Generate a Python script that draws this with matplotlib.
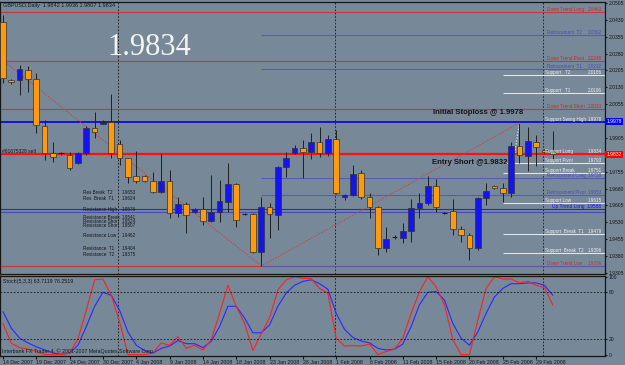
import matplotlib
matplotlib.use('Agg')
import matplotlib.pyplot as plt
import numpy as np
from matplotlib.transforms import blended_transform_factory

plt.rcParams['font.family'] = ['Liberation Sans', 'DejaVu Sans']

# GBPUSD daily bars, 14 Dec 2007 .. 3 Mar 2008
opens = [2.0421, 2.0163, 2.0163, 2.0207, 2.0167, 1.9958, 1.9838, 1.9838, 1.9829, 1.9794,
         1.9838, 1.9949, 1.9967, 1.9976, 1.9878, 1.9816, 1.9736, 1.9736, 1.9714, 1.9665,
         1.9714, 1.9572, 1.9612, 1.9576, 1.9589, 1.9536, 1.9576, 1.9621, 1.9701, 1.9567,
         1.9567, 1.9398, 1.9598, 1.9563, 1.9776, 1.9838, 1.9861, 1.9843, 1.9887, 1.9838,
         1.9901, 1.9643, 1.9652, 1.9749, 1.9643, 1.9598, 1.9416, 1.9465, 1.9461, 1.9492,
         1.9594, 1.9616, 1.9692, 1.9572, 1.9581, 1.9501, 1.9474, 1.9416, 1.9638, 1.9692,
         1.9683, 1.9661, 1.9869, 1.9825, 1.9887, 1.9852, 1.9842]
highs = [2.0452, 2.0167, 2.0229, 2.0225, 2.0194, 1.9985, 1.9887, 1.9843, 1.9843, 1.9843,
         1.9958, 2.0021, 1.9985, 2.0101, 1.9896, 1.9816, 1.9847, 1.9741, 1.9754, 1.9838,
         1.9763, 1.9643, 1.9621, 1.9594, 1.9643, 1.9741, 1.9718, 1.9794, 1.9705, 1.9572,
         1.9572, 1.9643, 1.9616, 1.9781, 1.9843, 1.9874, 1.9896, 1.9927, 1.9954, 1.9918,
         1.9941, 1.9656, 1.9785, 1.9763, 1.9661, 1.9603, 1.9509, 1.9474, 1.9527, 1.9634,
         1.9661, 1.9736, 1.9723, 1.9576, 1.9634, 1.9514, 1.9483, 1.9643, 1.9705, 1.9696,
         1.9705, 1.9887, 1.9972, 1.9954, 1.9918, 1.9856, 1.9936]
lows = [2.0149, 2.0145, 2.0096, 2.0109, 1.9927, 1.9807, 1.9798, 1.9829, 1.9763, 1.9789,
        1.9829, 1.9905, 1.9967, 1.9816, 1.9785, 1.9705, 1.9705, 1.9709, 1.9661, 1.9661,
        1.9549, 1.9554, 1.9483, 1.9572, 1.9518, 1.9532, 1.9532, 1.9576, 1.9509, 1.9563,
        1.9394, 1.9336, 1.9461, 1.9496, 1.9732, 1.9834, 1.9727, 1.9812, 1.9821, 1.9825,
        1.9656, 1.9629, 1.9647, 1.9634, 1.9549, 1.9385, 1.9398, 1.9456, 1.9438, 1.9443,
        1.9549, 1.9607, 1.9576, 1.9567, 1.9474, 1.9443, 1.9363, 1.9407, 1.9607, 1.9678,
        1.9621, 1.9643, 1.9794, 1.9758, 1.9781, 1.9838, 1.9807]
closes = [2.0172, 2.0154, 2.0212, 2.0167, 1.9963, 1.9838, 1.9821, 1.9838, 1.9772, 1.9838,
          1.9949, 1.9932, 1.9976, 1.9838, 1.9816, 1.9732, 1.9714, 1.9714, 1.9665, 1.9714,
          1.9572, 1.9612, 1.9563, 1.9589, 1.9536, 1.9576, 1.9625, 1.9701, 1.9541, 1.9567,
          1.9398, 1.9598, 1.9567, 1.9776, 1.9816, 1.9861, 1.9843, 1.9887, 1.9838, 1.9901,
          1.9661, 1.9652, 1.9745, 1.9643, 1.9598, 1.9416, 1.9456, 1.9465, 1.9492, 1.9594,
          1.9616, 1.9692, 1.9598, 1.9572, 1.9501, 1.9474, 1.9416, 1.9638, 1.9670, 1.9683,
          1.9661, 1.9869, 1.9829, 1.9892, 1.9865, 1.9843, 1.9834]

# Stochastic(5,3,3)
stoch_k = [40, 14.5, 9, 7, 4, 0, 0, 0, 2, 20, 57, 96, 97, 76, 42, 0, 0, 0, 2, 15,
           12, 23, 8, 12, 6, 19, 53, 89, 62, 40, 5, 27, 47, 83, 96, 100, 98, 97.5, 85, 79,
           21, 11, 11.5, 11, 13.6, 0, 4, 7, 21, 53, 81, 100, 87, 64, 19, 0, 0, 44, 85, 100,
           97, 97, 92, 94, 89, 86, 63.7]
stoch_d = [55, 34, 21, 15, 10, 6, 2, 0.5, 2, 12, 36, 62, 80, 76, 57, 29, 12, 5, 2, 8,
           11, 18, 14, 14, 9, 17, 36, 62, 62, 47, 28, 28, 38, 62, 79, 89, 94, 96, 91, 84,
           53, 32.5, 22, 17.5, 15, 8, 6, 7, 13.6, 36, 64, 80, 81, 70, 40, 21, 12, 29, 53, 74,
           85, 91, 91, 92, 92, 89, 76.25]

date_labels = ['14 Dec 2007', '19 Dec 2007', '24 Dec 2007', '30 Dec 2007', '4 Jan 2008',
               '9 Jan 2008', '14 Jan 2008', '18 Jan 2008', '23 Jan 2008', '28 Jan 2008',
               '1 Feb 2008', '6 Feb 2008', '11 Feb 2008', '15 Feb 2008', '20 Feb 2008',
               '25 Feb 2008', '29 Feb 2008']
month_starts = [14, 40, 65]
price_ticks = [2.0505, 2.0430, 2.0355, 2.0280, 2.0205, 2.0130, 2.0055, 1.9905,
               1.9755, 1.9680, 1.9605, 1.9530, 1.9455, 1.9380, 1.9305]

# levels drawn by the indicators
down_names = ['Down Trend Long', 'Down Trend Pivot', 'Down Trend Short', 'Down Trend Low']
down_levels = [2.0463, 2.0248, 2.0033, 1.9336]
retr_names = ['Retracement  T2', 'Retracement  T1', 'Retracement Long', 'Retracement Pivot']
retr_levels = [2.0362, 2.0212, 1.9728, 1.9653]
supp_names = ['Support   T2', 'Support   T1', 'Support Pivot', 'Support Break', 'Support Low',
              'Support  Break  T1', 'Support  Break  T2']
supp_levels = [2.0186, 2.0106, 1.9793, 1.9751, 1.9615, 1.9479, 1.9396]
extra_names = ['Support Swing High', 'Support Long']
extra_levels = [1.9978, 1.9834]
uptrend_level = 1.9588
res_names = ['Res Break  T2', 'Res  Break  T1', 'Resistance High', 'Resistance Break',
             'Resistance Short', 'Resistance Short', 'Resistance Low', 'Resistance  T1',
             'Resistance  T2']
res_levels = [1.9653, 1.9624, 1.9576, 1.9541, 1.9524, 1.9507, 1.9462, 1.9404, 1.9375]
stoploss = 1.9978
entry = 1.9832
last_price = 1.9834
zz_bars = [-0.36, 31, 62]
zz_prices = [2.0260, 1.9336, 1.9972]

bg = '#778899'
dark = '#161616'
W, H = 625, 365
narrow = ['Liberation Sans Narrow', 'Liberation Sans', 'DejaVu Sans']


def px_box(x0, y0, x1, y1):
    return [x0 / W, 1 - y1 / H, (x1 - x0) / W, (y1 - y0) / H]


fig = plt.figure(figsize=(6.25, 3.65), dpi=100, facecolor=bg)
ax = fig.add_axes(px_box(0, 2, 605, 274), facecolor=bg)
ax2 = fig.add_axes(px_box(0, 276, 605, 356), facecolor=bg)
x0, x1 = -0.36, 72.27
ax.set_xlim(x0, x1)
ax.set_ylim(1.93005, 2.05094)
ax2.set_xlim(x0, x1)
ax2.set_ylim(-1.8, 100.9)

# horizontal levels
for p in down_levels:
    ax.hlines(p, x0, x1, color='#c83a3a', lw=0.8, zorder=2)
for p in retr_levels + [down_levels[-1]]:
    ax.hlines(p, 31, x1, color='#5a5ab4', lw=0.8, zorder=2)
for p in supp_levels:
    ax.hlines(p, 60, x1, color='#e4e4e4', lw=0.8, zorder=2)
ax.hlines(uptrend_level, x0, x1, color='#2a2ad0', lw=0.8, zorder=2)
ax.hlines(res_levels[2], x0, x1, color='#4848c0', lw=0.8, zorder=2)
ax.hlines(stoploss, x0, x1, color='#0a0ad8', lw=1.3, zorder=2)
ax.hlines(entry, x0, x1, color='#ff1010', lw=1.6, zorder=2)

# zigzag
ax.plot(zz_bars, zz_prices, color='#d04040', lw=0.7, ls=(0, (1.5, 1.5)), zorder=2)
ax.plot([62, 60.7], [1.9972, 1.9661], color='#eeeeee', lw=0.7, ls=(0, (1.5, 1.5)), zorder=2)

# candles
for i in range(len(opens)):
    o, h, l, c = opens[i], highs[i], lows[i], closes[i]
    ax.vlines(i, l, h, color='#202020', lw=0.7, zorder=3)
    if abs(c - o) < 0.0001:
        ax.hlines(o, i - 0.34, i + 0.34, color='#202020', lw=0.8, zorder=4)
    else:
        col = '#1414f0' if c > o else '#ff9a0a'
        ax.bar(i, abs(c - o), bottom=min(o, c), width=0.68, color=col,
               edgecolor='#303030', lw=0.5, zorder=4)

for b in month_starts:
    ax.axvline(b - 0.2, color=dark, lw=0.6, ls=(0, (2, 2)), zorder=1)
    ax2.axvline(b - 0.2, color=dark, lw=0.6, ls=(0, (2, 2)), zorder=1)

# right-side labels
fs = 3.3
for n, p in zip(down_names, down_levels):
    ax.text(65.3, p, n, fontsize=fs, family=narrow, color='#d02828', ha='left', va='bottom', zorder=5)
    ax.text(71.9, p, '%.4f' % p, fontsize=fs, family=narrow, color='#d02828', ha='right', va='bottom', zorder=5)
for n, p in zip(retr_names, retr_levels):
    ax.text(65.3, p, n, fontsize=fs, family=narrow, color='#4a4ac0', ha='left', va='bottom', zorder=5)
    ax.text(71.9, p, '%.4f' % p, fontsize=fs, family=narrow, color='#4a4ac0', ha='right', va='bottom', zorder=5)
for n, p in zip(supp_names + extra_names, supp_levels + extra_levels):
    ax.text(65.1, p, n, fontsize=fs, family=narrow, color='#f0f0f0', ha='left', va='bottom', zorder=5)
    ax.text(71.9, p, '%.4f' % p, fontsize=fs, family=narrow, color='#f0f0f0', ha='right', va='bottom', zorder=5)
ax.text(65.9, uptrend_level, 'Up Trend Long', fontsize=3.5, family=narrow, color='#1010ff',
        ha='left', va='bottom', zorder=5)
ax.text(71.9, uptrend_level, '%.4f' % uptrend_level, fontsize=3.5, family=narrow, color='#1010ff',
        ha='right', va='bottom', zorder=5)

# left resistance labels
for n, p in zip(res_names, res_levels):
    ax.text(9.6, p, n, fontsize=fs, family=narrow, color=dark, ha='left', va='bottom', zorder=5)
    ax.text(14.3, p, '%.4f' % p, fontsize=fs, family=narrow, color=dark, ha='left', va='bottom', zorder=5)

ax.text(-0.1, entry + 0.0003, '#81675328 sell', fontsize=3.6, family=narrow, color=dark,
        ha='left', va='bottom', zorder=5)
ax.text(51.6, 2.0017, 'Initial Stoploss @ %.4f' % stoploss, fontsize=5.6, fontweight='bold',
        family=narrow, color='#151515', ha='left', va='center', zorder=5)
ax.text(51.5, 1.9798, 'Entry Short @%.4f' % entry, fontsize=5.6, fontweight='bold',
        family=narrow, color='#151515', ha='left', va='center', zorder=5)
ax.text(12.5, 2.0307, '%.4f' % last_price, fontsize=22, family=['Liberation Serif', 'DejaVu Serif'],
        color='#f4f4f4', ha='left', va='center', zorder=5)

# price axis
ax.yaxis.tick_right()
ax.set_yticks(price_ticks)
ax.set_yticklabels(['%.4f' % p for p in price_ticks])
ax.tick_params(axis='y', labelsize=3.6, pad=1, length=1.5, colors=dark)
ax.set_xticks([])
trans = blended_transform_factory(ax.transAxes, ax.transData)
ax.text(1.002, stoploss, '%.4f' % stoploss, transform=trans, fontsize=3.6, color='white',
        ha='left', va='center', bbox=dict(facecolor='#0000ff', edgecolor='none', pad=0.8))
ax.text(1.002, entry, '%.4f' % entry, transform=trans, fontsize=3.6, color='white',
        ha='left', va='center', bbox=dict(facecolor='#ff0000', edgecolor='none', pad=0.8))

# stochastic
xs = np.arange(len(stoch_k))
ax2.plot(xs, stoch_d, color='#2a2aff', lw=0.8)
ax2.plot(xs, stoch_k, color='#ff2020', lw=0.8)
for lv in [80, 20]:
    ax2.axhline(lv, color=dark, lw=0.6, ls=(0, (2, 2)))
ax2.yaxis.tick_right()
ax2.set_yticks([0, 20, 80, 100])
ax2.set_yticklabels(['0', '20', '80', '100'])
ax2.tick_params(axis='y', labelsize=3.6, pad=1, length=1.5, colors=dark)
ax2.set_xticks(range(0, 65, 4))
ax2.set_xticklabels(date_labels)
for lab in ax2.get_xticklabels():
    lab.set_horizontalalignment('left')
ax2.tick_params(axis='x', labelsize=3.8, pad=0.8, length=2, colors=dark)

for a in (ax, ax2):
    for s in a.spines.values():
        s.set_color(dark)
        s.set_linewidth(0.9)

fig.text(3 / W, 1 - 5 / H, 'GBPUSD,Daily  1.9842 1.9936 1.9807 1.9834', fontsize=4,
         color=dark, ha='left', va='center')
fig.text(3 / W, 1 - 281 / H, 'Stoch(5,3,3) 63.7119 76.2519', fontsize=3.8,
         color=dark, ha='left', va='center')
fig.text(2 / W, 1 - 351 / H, 'Interbank FX Trader 4, \u00a9 2001-2007 MetaQuotes Software Corp.',
         fontsize=3.8, color=dark, ha='left', va='center')

fig.savefig('out.png', dpi=100, facecolor=bg)
